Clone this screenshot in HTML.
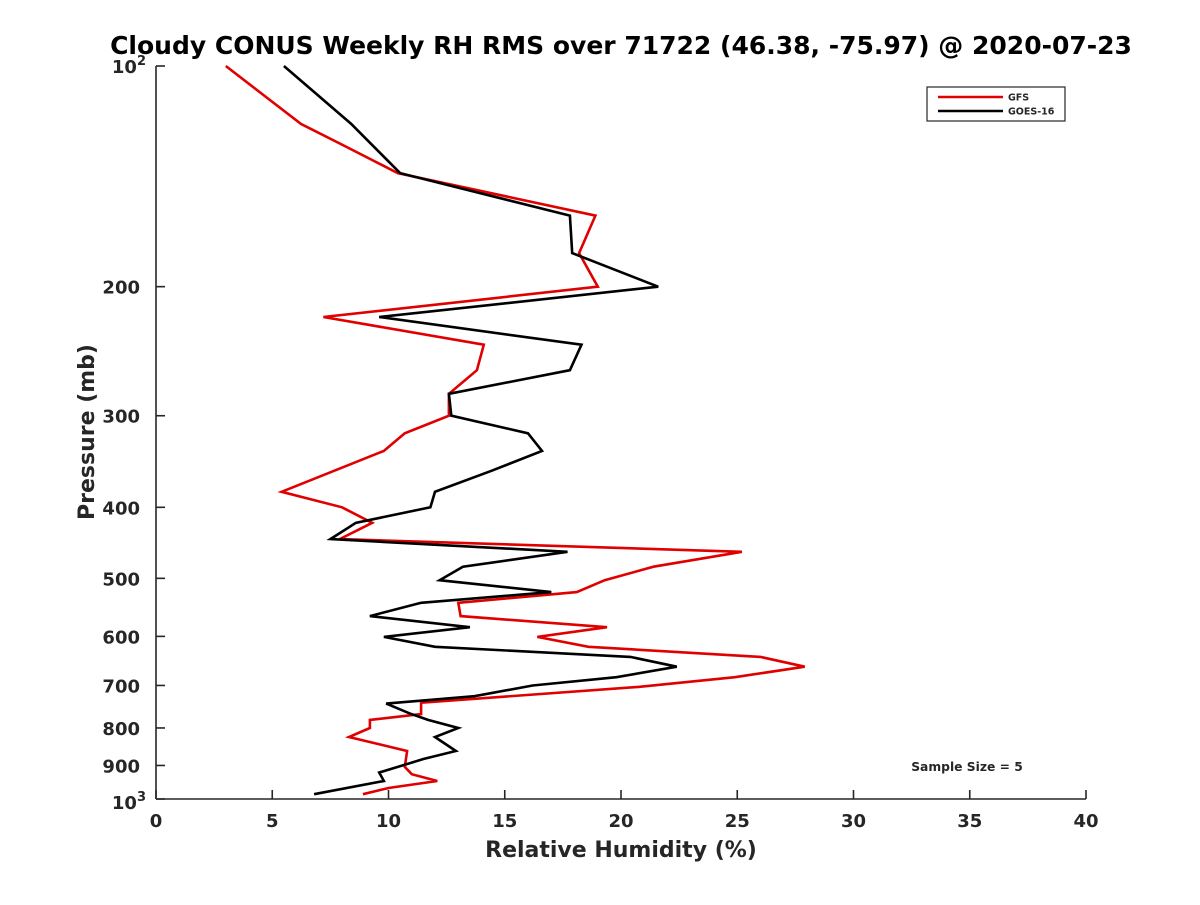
<!DOCTYPE html>
<html><head><meta charset="utf-8"><style>
body{margin:0;background:#fff;}
svg text{font-family:"DejaVu Sans","Liberation Sans",sans-serif;font-weight:bold;fill:#262626;}
</style></head><body>
<svg id="chart" width="1200" height="900" viewBox="0 0 1200 900" xmlns="http://www.w3.org/2000/svg">
<rect width="1200" height="900" fill="#fff"/>
<text x="621" y="54" text-anchor="middle" font-size="25" style="fill:#000">Cloudy CONUS Weekly RH RMS over 71722 (46.38, -75.97) @ 2020-07-23</text>
<g id="axes"></g>
<g id="series"></g>
<text x="621" y="857" text-anchor="middle" font-size="22">Relative Humidity (%)</text>
<text transform="translate(94,432) rotate(-90)" text-anchor="middle" font-size="22">Pressure (mb)</text>
<text x="967" y="771" text-anchor="middle" font-size="12.3">Sample Size = 5</text>
<g>
<rect x="927" y="87" width="138" height="34" fill="#fff" stroke="#262626" stroke-width="1.2"/>
<line x1="938" y1="97" x2="1003" y2="97" stroke="#e00000" stroke-width="2.5"/>
<text x="1008" y="100.5" font-size="9.5">GFS</text>
<line x1="938" y1="111" x2="1003" y2="111" stroke="#000" stroke-width="2.5"/>
<text x="1008" y="114.5" font-size="9.5">GOES-16</text>
</g>
</svg>
<script>
const gfsP=[100,120,128,140,160,180,200,220,240,260,280,300,317,335,381,400,420,442,460,482,503,522,540,563,583,601,620,640,660,682,703,739,766,780,800,823,860,904,925,945,966,985];
const gfsRH=[3.0,6.24,8.0,10.4,18.9,18.2,19.0,7.2,14.1,13.8,12.6,12.6,10.7,9.8,5.4,8.0,9.3,7.9,25.2,21.4,19.3,18.1,13.0,13.1,19.4,16.4,18.6,26.0,27.9,24.9,20.8,11.4,11.4,9.2,9.2,8.3,10.8,10.7,11.0,12.1,10.0,8.9];
const goesP=[100,120,140,160,180,200,220,240,260,280,300,317,335,357,381,400,420,442,460,482,503,522,540,563,583,601,620,640,660,682,700,724,741,764,780,800,823,860,882,904,920,945,985];
const goesRH=[5.5,8.4,10.5,17.8,17.9,21.6,9.6,18.3,17.8,12.6,12.7,16.0,16.6,14.4,12.0,11.8,8.6,7.5,17.7,13.2,12.2,17.0,11.4,9.2,13.5,9.8,12.0,20.4,22.4,19.8,16.2,13.7,9.9,10.9,11.7,13.0,12.0,12.9,11.5,10.4,9.6,9.8,6.8];
const xTicks=[0,5,10,15,20,25,30,35,40];
const yTicks=[200,300,400,500,600,700,800,900];

const NS="http://www.w3.org/2000/svg";
const X0=156,X1=1086,Y0=66,Y1=799;
function xs(v){return X0+(v-0)/40*(X1-X0);}
function ys(p){return Y0+Math.log10(p/100)*(Y1-Y0);}
function mk(tag,attrs,parent){const e=document.createElementNS(NS,tag);for(const k in attrs)e.setAttribute(k,attrs[k]);parent.appendChild(e);return e;}
const axes=document.getElementById('axes');
let ax=mk('line',{x1:X0,y1:Y1,x2:X1,y2:Y1,stroke:'#262626','stroke-width':1.6},axes);


let ay=mk('line',{x1:X0,y1:Y0,x2:X0,y2:Y1,stroke:'#262626','stroke-width':1.6},axes);


xTicks.forEach(v=>{
  const x=xs(v);
  const t=mk('line',{x1:x,y1:Y1,x2:x,y2:Y1-9,stroke:'#262626','stroke-width':1.6},axes);
  
  
  const l=mk('text',{x:x,y:Y1+28,'text-anchor':'middle','font-size':18},axes);
  l.textContent=v;
  
  
});
yTicks.concat([100,1000]).forEach(p=>{
  const y=ys(p);
  const t=mk('line',{x1:X0,y1:y,x2:X0+9,y2:y,stroke:'#262626','stroke-width':1.6},axes);
  
  
});
yTicks.forEach(p=>{
  const l=mk('text',{x:X0-16,y:ys(p)+7,'text-anchor':'end','font-size':18},axes);
  l.textContent=p;
  
  
});
[[100,'2'],[1000,'3']].forEach(([p,e])=>{
  const l=mk('text',{x:X0-10,y:ys(p)+(p==100?7:10),'text-anchor':'end','font-size':18},axes);
  l.innerHTML='10<tspan dy="-8" font-size="13">'+e+'</tspan>';
  
  
});
const ser=document.getElementById('series');
function line(P,R,color,name){
  const d=P.map((p,i)=>(i?'L':'M')+xs(R[i]).toFixed(1)+','+ys(p).toFixed(1)).join(' ');
  const e=mk('path',{d:d,fill:'none',stroke:color,'stroke-width':2.6,'stroke-linejoin':'miter'},ser);
  
  
}
line(gfsP,gfsRH,'#e00000','gfs-line');
line(goesP,goesRH,'#000','goes16-line');
</script>
</body></html>
